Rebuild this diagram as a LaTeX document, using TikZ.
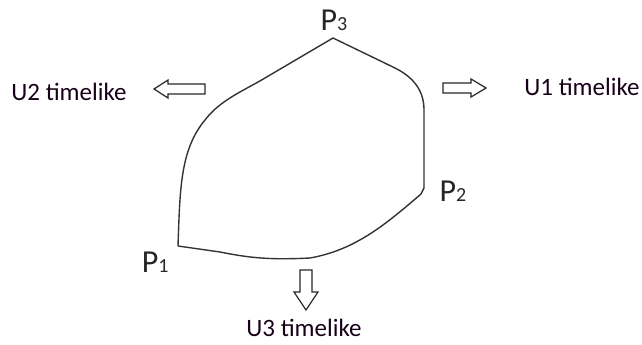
\documentclass[tikz,border=0pt]{standalone}
\usepackage{fontspec}
\setmainfont{Carlito}
\begin{document}
\begin{tikzpicture}[x=1pt,y=-1pt,
  curve/.style={line width=1.4pt,draw=black!80,line join=round},
  blockarrow/.style={line width=1.2pt,draw=black!85,line join=miter},
  ulabel/.style={font=\fontsize{25}{28}\selectfont,text=black!80!violet},
  plabel/.style={font=\fontsize{32}{36}\selectfont,text=black!85}]
\useasboundingbox (0,0) rectangle (642,345);
% corners
\coordinate (p1) at (178,246);
\coordinate (p2) at (421,194);
\coordinate (p3) at (333,38);
% closed curve
\draw[curve] (p1) .. controls (180,190) and (180,150) .. (205,120)
  .. controls (220,100) and (245,90) .. (265,78) -- (p3)
  -- (395,68) .. controls (415,78) and (424,92) .. (424,110)
  -- (424,188) -- (p2)
  .. controls (385,225) and (355,250) .. (310,258)
  .. controls (270,260) and (250,258) .. (220,252) -- (p1);
% labels of corners
\node[plabel,anchor=base] (l3) at (334,31) {P{\fontsize{20}{20}\selectfont 3}};
\node[plabel,anchor=base west] (l2) at (436,201) {P{\fontsize{20}{20}\selectfont 2}};
\node[plabel,anchor=base east] (l1) at (172,272) {P{\fontsize{20}{20}\selectfont 1}};
% block arrows
\draw[blockarrow] (205,84) -- (168,84) -- (168,80) -- (154,89) -- (168,98) -- (168,94) -- (205,94) -- cycle;
\draw[blockarrow] (443,83) -- (471,83) -- (471,79) -- (486,88) -- (471,97) -- (471,93) -- (443,93) -- cycle;
\draw[blockarrow] (300,270) -- (312,270) -- (312,292) -- (318,292) -- (306,310) -- (294,292) -- (300,292) -- cycle;
% texts
\node[ulabel] (u2) at (69,92) {U2 timelike};
\node[ulabel] (u1) at (582,87) {U1 timelike};
\node[ulabel] (u3) at (304,328) {U3 timelike};
\end{tikzpicture}
\end{document}
